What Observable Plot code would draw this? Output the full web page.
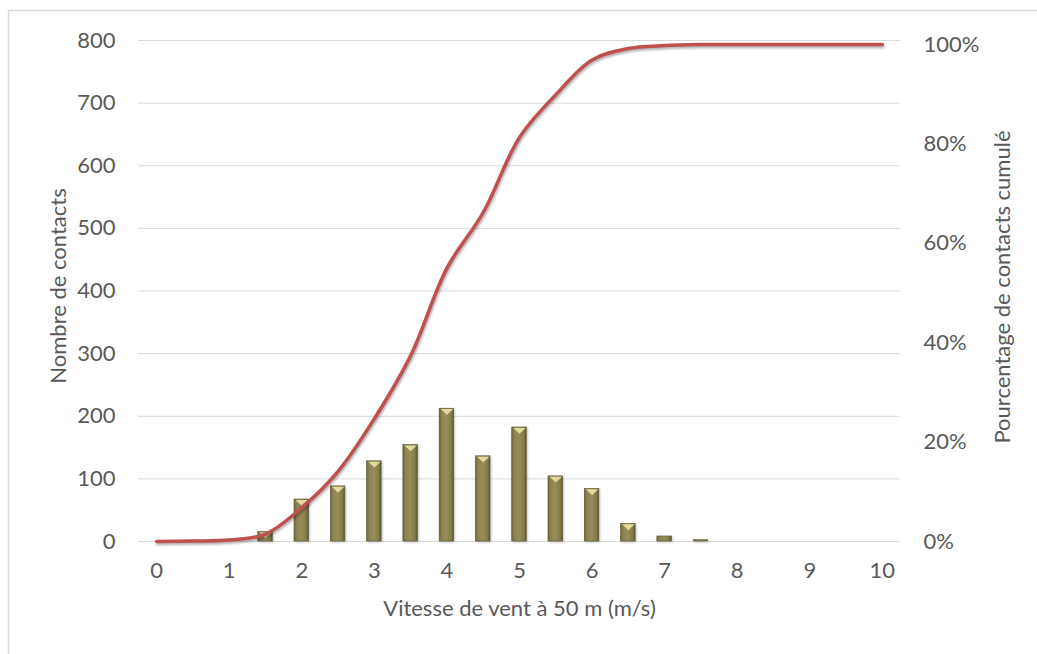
<!DOCTYPE html>
<html>
<head>
<meta charset="utf-8">
<script src="https://cdn.jsdelivr.net/npm/d3@7"></script>
<script src="https://cdn.jsdelivr.net/npm/@observablehq/plot@0.6"></script>
<style>
  html, body { margin: 0; padding: 0; background: #fff; }
  #chart { position: relative; width: 1037px; height: 654px; overflow: hidden; }
  #chart svg g[aria-label="line"] { filter: drop-shadow(1px 2px 1.2px rgba(0,0,0,0.3)); }
  #chart svg g.bars { filter: drop-shadow(1px 1px 1px rgba(0,0,0,0.25)); }
</style>
</head>
<body>
<div id="chart"></div>
<script>
// Wind speed classes (m/s)
const speeds = [0, 0.5, 1, 1.5, 2, 2.5, 3, 3.5, 4, 4.5, 5, 5.5, 6, 6.5, 7, 7.5, 8, 8.5, 9, 9.5, 10];
// Number of contacts per class (left axis)
const counts = [0, 0, 0, 15, 67, 88, 128, 154, 212, 136, 182, 104, 84, 28, 8, 2, 0, 0, 0, 0, 0];
// Cumulative percentage of contacts (right axis), %
const cumulPct = [0, 0.1, 0.3, 1.5, 6.8, 14.1, 24.7, 37.4, 55.0, 66.2, 81.3, 89.9, 96.9, 99.2, 99.8, 100, 100, 100, 100, 100, 100];
// Tick labels
const xTicks = [0, 1, 2, 3, 4, 5, 6, 7, 8, 9, 10];
const yTicks = [0, 100, 200, 300, 400, 500, 600, 700, 800];
const pctTicks = [0, 20, 40, 60, 80, 100];

const xLabel = "Vitesse de vent à 50 m (m/s)";
const yLabel = "Nombre de contacts";
const y2Label = "Pourcentage de contacts cumulé";

// Secondary axis: 100 % corresponds to this value on the primary scale
const K = 793.6;

const bars = speeds.map((s, i) => ({s, c: counts[i]})).filter(d => d.c > 0);
const cum = speeds.map((s, i) => ({s, p: cumulPct[i]}));

const squatTriangle = {
  draw(context, size) {
    const r = Math.sqrt(size / Math.PI);
    const h = r * 0.95;
    context.moveTo(-r, -h / 2);
    context.lineTo(r, -h / 2);
    context.lineTo(0, h / 2);
    context.closePath();
  }
};

const textColor = "#595959";
const fs = 22;

const chart = Plot.plot({
  width: 1037,
  height: 654,
  marginLeft: 138,
  marginRight: 137,
  marginTop: 40,
  marginBottom: 113,
  style: {fontFamily: "Lato, 'Open Sans', sans-serif", fontSize: fs + "px", color: textColor, background: "transparent"},
  x: {domain: [-0.25, 10.25]},
  y: {domain: [0, 800]},
  marks: [
    Plot.gridY(yTicks, {stroke: "#d9d9d9", strokeOpacity: 1, strokeWidth: 1}),
    Plot.axisY(yTicks, {anchor: "left", tickSize: 0, tickPadding: 23, label: null, fontSize: fs}),
    Plot.axisY(pctTicks.map(p => p / 100 * K), {
      anchor: "right", tickSize: 0, tickPadding: 23, label: null, fontSize: fs,
      tickFormat: (d, i) => pctTicks[i] + "%"
    }),
    Plot.axisX(xTicks, {anchor: "bottom", tickSize: 0, tickPadding: 21, label: null, fontSize: fs}),
    Plot.rect(bars, {
      x1: d => d.s - 0.1, x2: d => d.s + 0.1, y1: 0, y2: "c",
      fill: "url(#barGrad)", stroke: "#5c5530", strokeWidth: 0.6, className: "bars"
    }),
    Plot.dot(bars.filter(d => d.c >= 12), {
      x: "s", y: "c", symbol: squatTriangle, r: 6.2, dy: 3.3,
      fill: "#e3d99c", stroke: "none"
    }),
    Plot.line(cum, {
      x: "s", y: d => d.p / 100 * K, stroke: "#c0504d", strokeWidth: 3.5,
      curve: "catmull-rom", strokeLinecap: "round"
    }),
    Plot.text([xLabel], {frameAnchor: "bottom", dy: 67, text: d => d, fill: textColor, fontSize: fs,
      textAnchor: "middle", lineAnchor: "middle"}),
    Plot.text([yLabel], {frameAnchor: "left", dx: -80, dy: -5, rotate: -90, text: d => d, fill: textColor, fontSize: fs,
      textAnchor: "middle", lineAnchor: "middle"}),
    Plot.text([y2Label], {frameAnchor: "right", dx: 102, dy: -4, rotate: -90, text: d => d, fill: textColor, fontSize: fs,
      textAnchor: "middle", lineAnchor: "middle"})
  ]
});

// Gradient for bevelled bars
const svg = d3.select(chart);
const defs = svg.insert("defs", ":first-child");
const g = defs.append("linearGradient").attr("id", "barGrad").attr("x1", 0).attr("x2", 1).attr("y1", 0).attr("y2", 0);
[[0, "#6d6538"], [0.18, "#8c8352"], [0.5, "#978d5b"], [0.82, "#857c4b"], [1, "#5d5630"]]
  .forEach(([o, c]) => g.append("stop").attr("offset", o).attr("stop-color", c));

// Chart area border
svg.append("rect")
  .attr("x", 8.5).attr("y", 10.5).attr("width", 1100).attr("height", 700)
  .attr("fill", "none").attr("stroke", "#d9d9d9").attr("stroke-width", 1.5);

document.getElementById("chart").appendChild(chart);
</script>
</body>
</html>
